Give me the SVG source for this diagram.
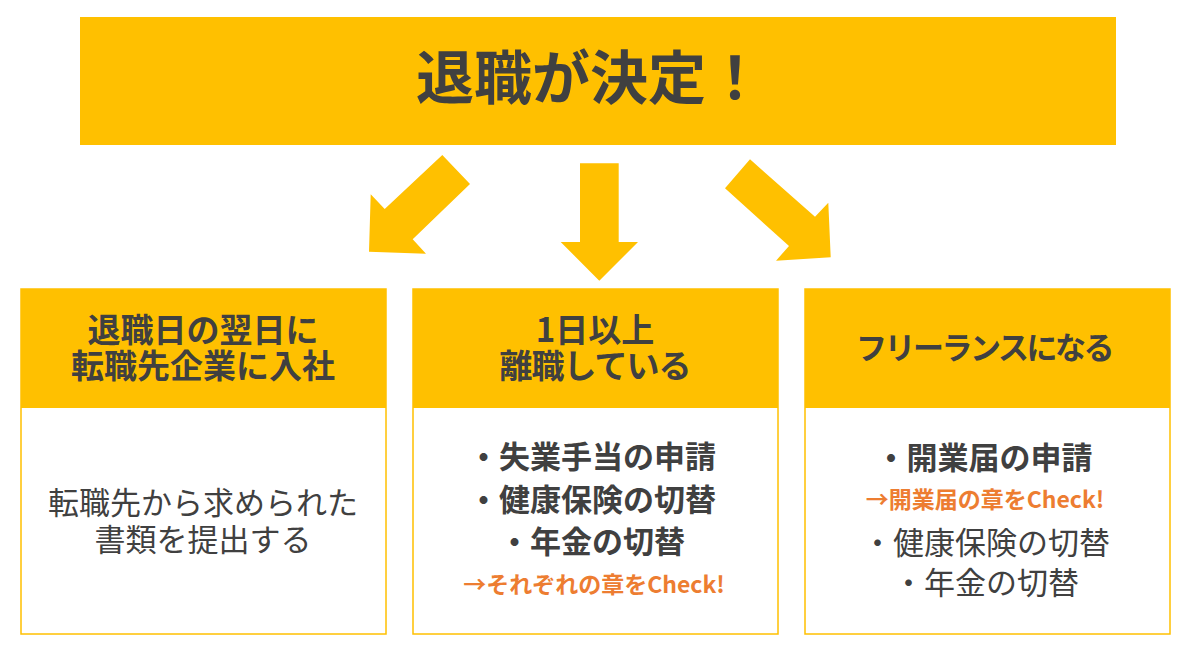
<svg xmlns="http://www.w3.org/2000/svg" width="1200" height="650" viewBox="0 0 1200 650">
<style>
.t{font-family:"Noto Sans CJK JP","Noto Sans",sans-serif;fill:#404040;text-anchor:middle}
.b{font-weight:bold}
.o{font-family:"Noto Sans CJK JP","Noto Sans",sans-serif;fill:#ED7D31;font-weight:bold;text-anchor:middle;font-size:23px}
.hdr{fill:#FFC000}
.body{fill:#FFFFFF;stroke:#FFC000;stroke-width:1.5}
.arr{fill:#FFC000}
</style>
<rect width="1200" height="650" fill="#FFFFFF"/>
<g id="top">
<rect class="hdr" x="80" y="17" width="1036" height="128"/>
<text class="t b" x="590" y="99" font-size="58">退職が決定！</text>
</g>
<g id="connectors">
<polygon class="arr" points="442.3,155 470,184 412.7,239.3 426,253.7 369,251.7 370.7,194.3 384.7,209"/>
<polygon class="arr" points="580,163.3 618.7,163.3 618.7,242 638,242 599.3,280.7 560.7,242 580,242"/>
<polygon class="arr" points="750,159.3 815,216.7 828.3,202.7 830.7,257.3 776,260.7 789,246 725,188.3"/>
</g>
<g id="box-left">
<rect class="body" x="21" y="289" width="365" height="345"/>
<rect class="hdr" x="21" y="289" width="365" height="119"/>
<text class="t b" x="203" y="342" font-size="33">退職日の翌日に</text>
<text class="t b" x="203" y="378" font-size="33">転職先企業に入社</text>
<text class="t" x="203" y="514" font-size="31">転職先から求められた</text>
<text class="t" x="203" y="551" font-size="31">書類を提出する</text>
</g>
<g id="box-middle">
<rect class="body" x="413" y="289" width="365" height="345"/>
<rect class="hdr" x="413" y="289" width="365" height="119"/>
<text class="t b" x="595" y="342" font-size="33">1日以上</text>
<text class="t b" x="595" y="378" font-size="33" letter-spacing="-1">離職している</text>
<text class="t b" x="592" y="468" font-size="31">・失業手当の申請</text>
<text class="t b" x="592" y="511" font-size="31">・健康保険の切替</text>
<text class="t b" x="592" y="553" font-size="31">・年金の切替</text>
<text class="o" x="594" y="593">→それぞれの章をCheck!</text>
</g>
<g id="box-right">
<rect class="body" x="805" y="289" width="365" height="345"/>
<rect class="hdr" x="805" y="289" width="365" height="119"/>
<text class="t b" x="984" y="359" font-size="31" letter-spacing="-2.5">フリーランスになる</text>
<text class="t b" x="984" y="469" font-size="31">・開業届の申請</text>
<text class="o" x="985" y="508">→開業届の章をCheck!</text>
<text class="t" x="986" y="554" font-size="31">・健康保険の切替</text>
<text class="t" x="986" y="594" font-size="31">・年金の切替</text>
</g>
</svg>
